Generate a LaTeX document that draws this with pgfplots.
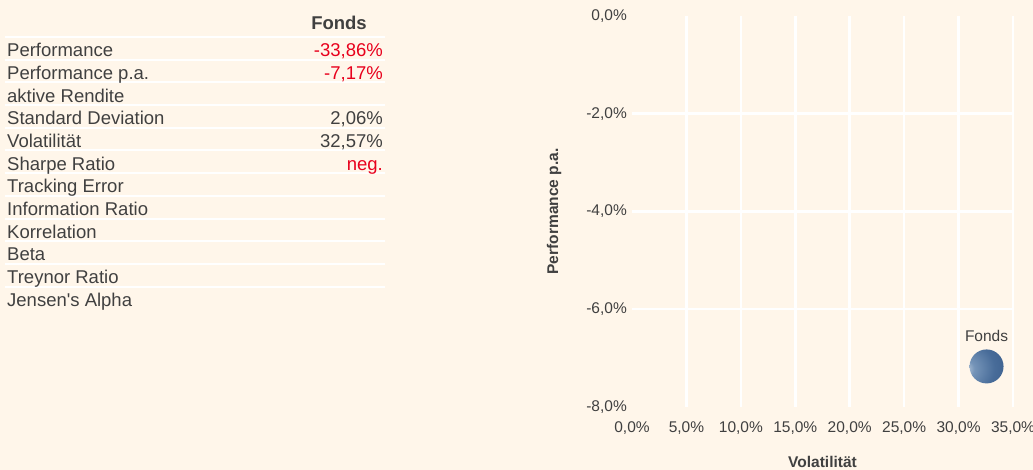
\documentclass[border=0pt]{standalone}
\usepackage{pgfplots}
\pgfplotsset{compat=1.18}
\usepackage{fontspec}
\setmainfont{Liberation Sans}[Ligatures=TeXOff]
\definecolor{bg}{HTML}{FFF6EA}
\definecolor{txt}{HTML}{404040}
\definecolor{neg}{HTML}{E8001C}
\definecolor{b0}{HTML}{CAD6E3}
\definecolor{b1}{HTML}{7594B8}
\definecolor{b2}{HTML}{486C99}
\definecolor{b3}{HTML}{2B4D7C}
\pgfdeclareradialshading{fondsball}{\pgfpoint{-34bp}{-4bp}}{color(0bp)=(b0); color(12bp)=(b1); color(34bp)=(b2); color(76bp)=(b3); color(100bp)=(b3)}
\pgfdeclareplotmark{fondsball}{%
  \pgfpathcircle{\pgfpointorigin}{\pgfplotmarksize}%
  \pgfshadepath{fondsball}{0}%
  \pgfusepath{discard}}
\newcommand\tabfont{\fontsize{18.5}{22}\selectfont}
\newcommand\chfont{\fontsize{15.5}{18}\selectfont}
\newcommand\row[3]{%
  \node[anchor=base west, inner sep=0pt, text=txt, font=\tabfont] at (7,{470-56.7-22.7*#1}) {#2};
  \node[anchor=base east, inner sep=0pt, font=\tabfont] at (383,{470-56.7-22.7*#1}) {#3};}
\begin{document}
\begin{tikzpicture}
\fill[bg] (0pt,0pt) rectangle (1033pt,470pt);
\begin{scope}[x=1pt,y=1pt]
\foreach \i in {0,...,11} {
  \draw[white, line width=2pt] (5,{470-37-22.7*\i}) -- (385,{470-37-22.7*\i});
}
\node[anchor=base, inner sep=0pt, text=txt, font=\tabfont\bfseries] at (339,{470-29.3}) {Fonds};
\row{0}{Performance}{\color{neg}-33,86\%}
\row{1}{Performance p.a.}{\color{neg}-7,17\%}
\row{2}{aktive Rendite}{}
\row{3}{Standard Deviation}{\color{txt}2,06\%}
\row{4}{Volatilität}{\color{txt}32,57\%}
\row{5}{Sharpe Ratio}{\color{neg}neg.}
\row{6}{Tracking Error}{}
\row{7}{Information Ratio}{}
\row{8}{Korrelation}{}
\row{9}{Beta}{}
\row{10}{Treynor Ratio}{}
\row{11}{Jensen's Alpha}{}
\end{scope}
\begin{axis}[
  at={(632pt,63pt)}, anchor=south west,
  width=381pt, height=391pt, scale only axis,
  xmin=0, xmax=35, ymin=-8, ymax=0,
  xtick={0,5,...,35},
  xticklabels={{0,0\%},{5,0\%},{10,0\%},{15,0\%},{20,0\%},{25,0\%},{30,0\%},{35,0\%}},
  ytick={-8,-6,...,0},
  yticklabels={{-8,0\%},{-6,0\%},{-4,0\%},{-2,0\%},{0,0\%}},
  extra x ticks={5,10,...,35}, extra x tick labels={}, extra x tick style={grid=major},
  extra y ticks={-6,-4,-2}, extra y tick labels={}, extra y tick style={grid=major},
  major grid style={white, line width=2.5pt},
  tick style={draw=none},
  axis line style={draw=none},
  ticklabel style={font=\chfont, text=txt},
  xticklabel style={inner sep=0pt, yshift=-14pt},
  yticklabel style={inner sep=0pt, xshift=-5pt},
  xlabel={Volatilität}, ylabel={Performance p.a.},
  xlabel style={at={([yshift=-61pt]axis description cs:0.5,0)}, anchor=base, font=\chfont\bfseries, text=txt, inner sep=0pt},
  ylabel style={at={([xshift=-74pt]axis description cs:0,0.5)}, anchor=base, font=\chfont\bfseries, text=txt, inner sep=0pt},
  clip=false,
]
\addplot[only marks, mark=fondsball, mark size=17pt] coordinates {(32.57,-7.17)};
\node[anchor=base, inner sep=0pt, font=\chfont, text=txt] at (axis cs:32.57,-7.17) [yshift=25pt] {Fonds};
\end{axis}
\pgfresetboundingbox
\useasboundingbox (0pt,0pt) rectangle (1033pt,470pt);
\end{tikzpicture}
\end{document}
